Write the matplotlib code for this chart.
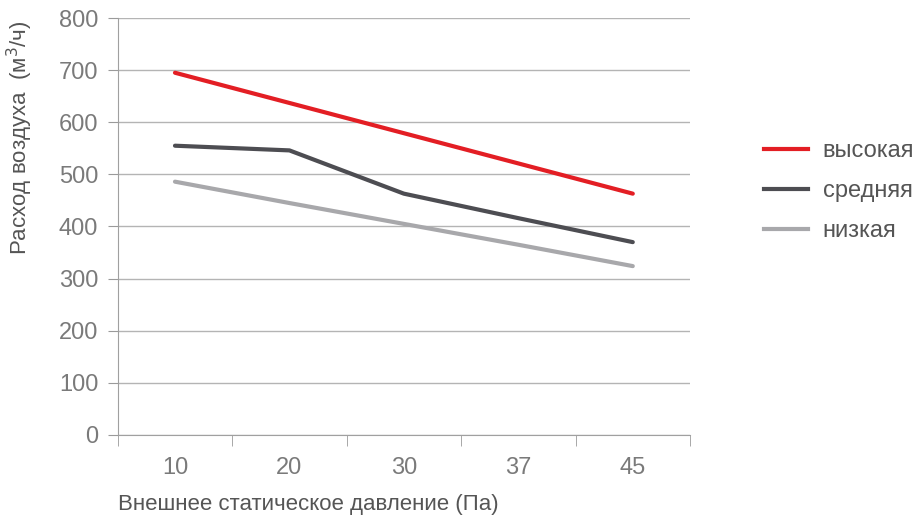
import numpy as np
import matplotlib.pyplot as plt
from matplotlib.lines import Line2D

plt.rcParams['font.family'] = ['Liberation Sans', 'DejaVu Sans']

pressure = ['10', '20', '30', '37', '45']
high = [695, 637, 579, 521, 463]
medium = [555, 546, 463, 416, 370]
low = [486, 445, 405, 365, 324]
series_names = ['высокая', 'средняя', 'низкая']

fig = plt.figure(figsize=(9.2, 5.22), dpi=100)
ax = fig.add_axes([0.128, 0.1667, 0.622, 0.7988])

x = np.arange(len(pressure))
colors = ['#e31e24', '#4d4d52', '#a8a8ab']
for vals, c in zip([high, medium, low], colors):
    ax.plot(x, vals, color=c, lw=3, solid_capstyle='round')

ax.set_xlim(-0.5, len(pressure) - 0.5)
ax.set_ylim(0, 800)
ax.set_yticks(np.arange(0, 801, 100))
ax.yaxis.grid(True, color='#b4b4b4', lw=1)
ax.set_axisbelow(True)

ax.set_xticks(x)
ax.set_xticklabels(pressure)
ax.set_xticks(np.arange(-0.5, len(pressure)), minor=True)
ax.tick_params(axis='x', which='major', length=0, pad=16, labelsize=17, labelcolor='#7a7a7a')
ax.tick_params(axis='x', which='minor', length=8, color='#9a9a9a', direction='out')
ax.tick_params(axis='y', length=7, color='#9a9a9a', labelsize=17, labelcolor='#7a7a7a', pad=7)

for s in ['top', 'right']:
    ax.spines[s].set_visible(False)
for s in ['left', 'bottom']:
    ax.spines[s].set_color('#a0a0a0')

fig.text(0.0217, 0.737, 'Расход воздуха  (м$^3$/ч)', fontsize=16, color='#555555',
         rotation=90, ha='center', va='center')
fig.text(0.128, 0.0326, 'Внешнее статическое давление (Па)', fontsize=16, color='#555555',
         ha='left', va='center')

handles = [Line2D([0], [0], color=c, lw=3) for c in colors]
fig.legend(handles, series_names, loc='upper left', bbox_to_anchor=(0.830, 0.732),
           frameon=False, fontsize=17, handlelength=1.9, handletextpad=0.6,
           labelspacing=0.76, labelcolor='#555555', borderaxespad=0, borderpad=0)

fig.savefig('out.png', dpi=100)
